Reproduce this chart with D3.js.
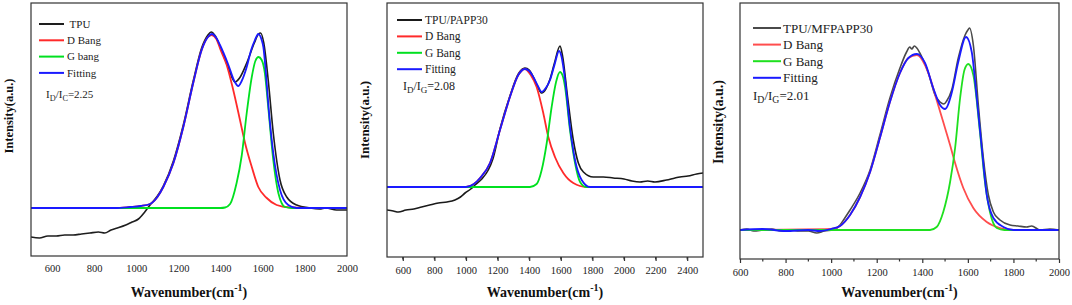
<!DOCTYPE html>
<html>
<head>
<meta charset="utf-8">
<script src="https://cdn.jsdelivr.net/npm/d3@7"></script>
<style>
  body { margin: 0; background: #fff; }
  svg { font-family: "Liberation Serif", "DejaVu Serif", serif; }
</style>
</head>
<body>
<svg id="chart" width="1072" height="305"></svg>
<script>
// ---- data: [wavenumber, intensity (a.u., fit baseline = 0)] ----
const tpuRaw = [[500,-29],[540,-30],[580,-28],[620,-28],[660,-27],[700,-27],[740,-26],[780,-25],[820,-24],[850,-25],[880,-22],[910,-20],[950,-17],[980,-14],[1010,-11],[1040,-4],[1065,3],[1100,12],[1128,22],[1176,47],[1223,83],[1270,127],[1310,160],[1340,173],[1355,176],[1375,172],[1400,160],[1437,140],[1468,126],[1490,130],[1524,145],[1560,165],[1580,174],[1590,175],[1605,165],[1626,128],[1650,75],[1682,28],[1714,11],[1761,3],[1824,0],[1870,-1],[1900,0],[1950,-2],[2000,-2]];
const tpuD = [[500,0],[900,0],[970,1],[1020,2],[1065,4],[1100,11],[1128,21],[1176,45],[1223,81],[1270,125],[1310,158],[1340,171],[1358,173],[1380,169],[1400,158],[1429,143],[1460,118],[1492,88],[1516,65],[1548,41],[1579,21],[1619,10],[1666,3],[1729,0.5],[1800,0],[2000,0]];
const tpuG = [[500,0],[1400,0],[1421,0.5],[1445,4],[1476,25],[1500,52],[1524,95],[1548,131],[1565,147],[1580,151],[1595,148],[1610,135],[1626,101],[1650,48],[1674,15],[1706,1],[1740,0],[2000,0]];
const tpuFit = [[500,0],[900,0],[970,1],[1020,2],[1065,4],[1100,11],[1128,21],[1176,45],[1223,81],[1270,125],[1310,158],[1340,171],[1358,174],[1380,170],[1397,163],[1437,143],[1465,127],[1484,122],[1500,127],[1524,141],[1545,158],[1563,168],[1579,174],[1595,168],[1603,161],[1615,135],[1626,105],[1650,55],[1682,18],[1721,3],[1761,0],[2000,0]];

const pappRaw = [[500,-23],[540,-24],[572,-25],[620,-23],[670,-22],[719,-20],[770,-18],[825,-16],[880,-15],[930,-13],[965,-10],[994,-6],[1030,-2],[1057,2],[1100,8],[1141,17],[1170,28],[1215,58],[1278,91],[1331,113],[1373,119],[1400,117],[1426,110],[1455,100],[1479,94],[1505,98],[1532,108],[1560,124],[1595,141],[1610,132],[1643,90],[1679,47],[1711,24],[1743,15],[1806,10],[1870,10],[1932,9],[2000,8],[2050,6],[2101,5],[2150,6],[2196,5],[2269,7],[2323,9],[2354,10],[2405,11],[2460,13],[2500,14]];
const pappD = [[500,0],[1000,0],[1050,3],[1089,9],[1152,24],[1215,57],[1278,90],[1331,112],[1373,118],[1410,112],[1447,100],[1489,74],[1521,50],[1563,30],[1616,14],[1679,4],[1764,0],[2500,0]];
const pappG = [[500,0],[1405,0],[1447,3],[1479,17],[1511,44],[1542,80],[1570,105],[1595,115],[1610,112],[1627,100],[1658,57],[1690,24],[1722,5],[1760,0],[2500,0]];
const pappFit = [[500,0],[1000,0],[1050,3],[1089,9],[1152,24],[1215,57],[1278,90],[1331,112],[1373,118],[1400,116],[1426,110],[1455,101],[1479,95],[1505,99],[1532,107],[1560,122],[1589,136],[1605,130],[1627,107],[1658,60],[1690,27],[1732,7],[1785,0],[2500,0]];

const mfRaw = [[600,0],[630,1],[660,-1],[700,0],[740,1],[780,-1],[820,0],[860,-1],[900,-1],[937,-3],[970,-1],[1009,0],[1039,5],[1060,12],[1083,20],[1127,37],[1171,60],[1214,95],[1258,132],[1302,162],[1331,178],[1345,183],[1354,181],[1365,184],[1376,182],[1398,173],[1427,157],[1456,135],[1478,128],[1495,126],[1507,129],[1529,140],[1558,172],[1588,195],[1600,200],[1607,202],[1624,185],[1646,125],[1668,72],[1690,35],[1712,18],[1741,10],[1785,5],[1820,4],[1858,3],[1880,4],[1917,0],[1960,1],[2000,0]];
const mfD = [[600,0],[1000,1],[1039,4],[1083,15],[1127,33],[1171,58],[1214,92],[1258,128],[1302,157],[1339,172],[1376,175],[1412,165],[1440,148],[1463,130],[1492,108],[1522,85],[1544,67],[1580,42],[1624,22],[1683,8],[1741,2],[1800,0],[2000,0]];
const mfG = [[600,0],[1434,0],[1463,3],[1492,18],[1522,48],[1544,82],[1566,132],[1585,160],[1602,166],[1624,155],[1653,98],[1675,48],[1697,18],[1727,2],[1760,0],[2000,0]];
const mfFit = [[600,0],[700,1],[800,-1],[900,0],[950,-1],[1000,1],[1039,4],[1083,15],[1127,33],[1171,58],[1214,92],[1258,128],[1302,157],[1339,172],[1376,176],[1412,167],[1448,142],[1478,125],[1500,121],[1529,137],[1558,168],[1592,193],[1617,178],[1639,132],[1661,82],[1683,35],[1712,12],[1756,3],[1800,0],[2000,0]];

const ticks1 = [600, 800, 1000, 1200, 1400, 1600, 1800, 2000];
const ticks2 = [600, 800, 1000, 1200, 1400, 1600, 1800, 2000, 2200, 2400];
const ticks3 = [600, 800, 1000, 1200, 1400, 1600, 1800, 2000];

const legend1 = [" TPU", "D Bang", "G bang", "Fitting"];
const legend2 = ["TPU/PAPP30", "D Bang", "G Bang", "Fitting"];
const legend3 = ["TPU/MFPAPP30", "D Bang", "G Bang", "Fitting"];

const ratio1 = { sub1: "D", sub2: "C", value: "2.25" };
const ratio2 = { sub1: "D", sub2: "G", value: "2.08" };
const ratio3 = { sub1: "D", sub2: "G", value: "2.01" };

// ---- layout ----
const panels = [
  { left: 31, right: 347, top: 3, bottom: 256, xDom: [500, 2000], yDom: [-48, 205],
    series: [tpuRaw, tpuD, tpuG, tpuFit], colors: ["#1e1e1e", "#ff2a2a", "#00e020", "#1a1aff"],
    ticks: ticks1, tickSize: 0, minor: false, legend: legend1, ratio: ratio1,
    leg: { x1: 39, x2: 64, tx: 67, y0: 24, dy: 16.3, fs: 11 }, rat: { x: 46, y: 98, fs: 11 },
    ylabX: 9, ylabY: 116, ylabFs: 12.5 },
  { left: 387, right: 703, top: 3, bottom: 257, xDom: [500, 2500], yDom: [-70, 184],
    series: [pappRaw, pappD, pappG, pappFit], colors: ["#1a1a1a", "#ff2a2a", "#00e020", "#1a1aff"],
    ticks: ticks2, tickSize: 4, minor: true, legend: legend2, ratio: ratio2,
    leg: { x1: 397, x2: 422, tx: 425, y0: 20, dy: 16.4, fs: 11.5 }, rat: { x: 403, y: 90, fs: 12 },
    ylabX: 364, ylabY: 120, ylabFs: 13 },
  { left: 740, right: 1059, top: 3, bottom: 259, xDom: [600, 2000], yDom: [-29, 227],
    series: [mfRaw, mfD, mfG, mfFit], colors: ["#4a4a4a", "#ff4d4d", "#1fe01f", "#1a1aff"],
    ticks: ticks3, tickSize: 4, minor: true, legend: legend3, ratio: ratio3,
    leg: { x1: 753, x2: 781, tx: 783, y0: 28, dy: 16.6, fs: 13 }, rat: { x: 753, y: 100, fs: 13 },
    ylabX: 718, ylabY: 122, ylabFs: 14 }
];

const svg = d3.select("#chart");

panels.forEach((p, pi) => {
  const x = d3.scaleLinear().domain(p.xDom).range([p.left, p.right]);
  const y = d3.scaleLinear().domain(p.yDom).range([p.bottom, p.top]);
  const g = svg.append("g");

  const clipId = "clip" + pi;
  g.append("clipPath").attr("id", clipId)
    .append("rect")
    .attr("x", p.left).attr("y", p.top)
    .attr("width", p.right - p.left).attr("height", p.bottom - p.top);

  const line = d3.line()
    .x(d => x(d[0]))
    .y(d => y(d[1]))
    .curve(d3.curveMonotoneX);

  // raw spectrum first, then D, G, fitting on top
  p.series.forEach((s, i) => {
    g.append("path")
      .datum(s)
      .attr("clip-path", `url(#${clipId})`)
      .attr("fill", "none")
      .attr("stroke", p.colors[i])
      .attr("stroke-width", i === 0 ? 1.6 : 1.8)
      .attr("d", line);
  });

  // frame
  g.append("rect")
    .attr("x", p.left).attr("y", p.top)
    .attr("width", p.right - p.left).attr("height", p.bottom - p.top)
    .attr("fill", "none")
    .attr("stroke", "#333")
    .attr("stroke-width", 1.2);

  // x axis
  const ax = g.append("g")
    .attr("transform", `translate(0,${p.bottom})`)
    .call(d3.axisBottom(x)
      .tickValues(p.ticks)
      .tickSize(p.tickSize)
      .tickPadding(p.tickSize ? 6 : 9)
      .tickFormat(d3.format("d")));
  ax.select(".domain").remove();
  ax.selectAll(".tick line").attr("stroke", "#333").attr("stroke-width", 1.2);
  ax.selectAll(".tick text")
    .attr("fill", "#222")
    .style("font-family", "Liberation Serif, serif")
    .style("font-size", "10.5px");

  if (p.minor) {
    const minor = d3.range(p.xDom[0] + 100, p.xDom[1], 200);
    g.selectAll(".minor")
      .data(minor)
      .join("line")
      .attr("x1", d => x(d)).attr("x2", d => x(d))
      .attr("y1", p.bottom).attr("y2", p.bottom + 2.5)
      .attr("stroke", "#333")
      .attr("stroke-width", 1.2);
  }

  // axis titles
  const xt = g.append("text")
    .attr("x", (p.left + p.right) / 2)
    .attr("y", 297)
    .attr("text-anchor", "middle")
    .attr("font-weight", "bold")
    .attr("font-size", 14)
    .attr("fill", "#111");
  xt.append("tspan").text("Wavenumber(cm");
  xt.append("tspan").attr("font-size", 10).attr("dy", -6).text("-1");
  xt.append("tspan").attr("dy", 6).text(")");

  g.append("text")
    .attr("transform", `translate(${p.ylabX},${p.ylabY}) rotate(-90)`)
    .attr("text-anchor", "middle")
    .attr("dy", "0.35em")
    .attr("font-weight", "bold")
    .attr("font-size", p.ylabFs)
    .attr("fill", "#111")
    .text("Intensity(a.u.)");

  // legend
  p.legend.forEach((label, i) => {
    const ly = p.leg.y0 + i * p.leg.dy;
    g.append("line")
      .attr("x1", p.leg.x1).attr("x2", p.leg.x2)
      .attr("y1", ly).attr("y2", ly)
      .attr("stroke", p.colors[i])
      .attr("stroke-width", 2);
    g.append("text")
      .attr("x", p.leg.tx)
      .attr("y", ly)
      .attr("dy", "0.35em")
      .attr("font-size", p.leg.fs)
      .attr("fill", "#222")
      .style("white-space", "pre")
      .text(label);
  });

  // I_D/I_G annotation
  const rt = g.append("text")
    .attr("x", p.rat.x)
    .attr("y", p.rat.y)
    .attr("font-size", p.rat.fs)
    .attr("fill", "#222");
  rt.append("tspan").text("I");
  rt.append("tspan").attr("font-size", p.rat.fs * 0.75).attr("dy", 3).text(p.ratio.sub1);
  rt.append("tspan").attr("dy", -3).text("/I");
  rt.append("tspan").attr("font-size", p.rat.fs * 0.75).attr("dy", 3).text(p.ratio.sub2);
  rt.append("tspan").attr("dy", -3).text("=" + p.ratio.value);
});
</script>
</body>
</html>
